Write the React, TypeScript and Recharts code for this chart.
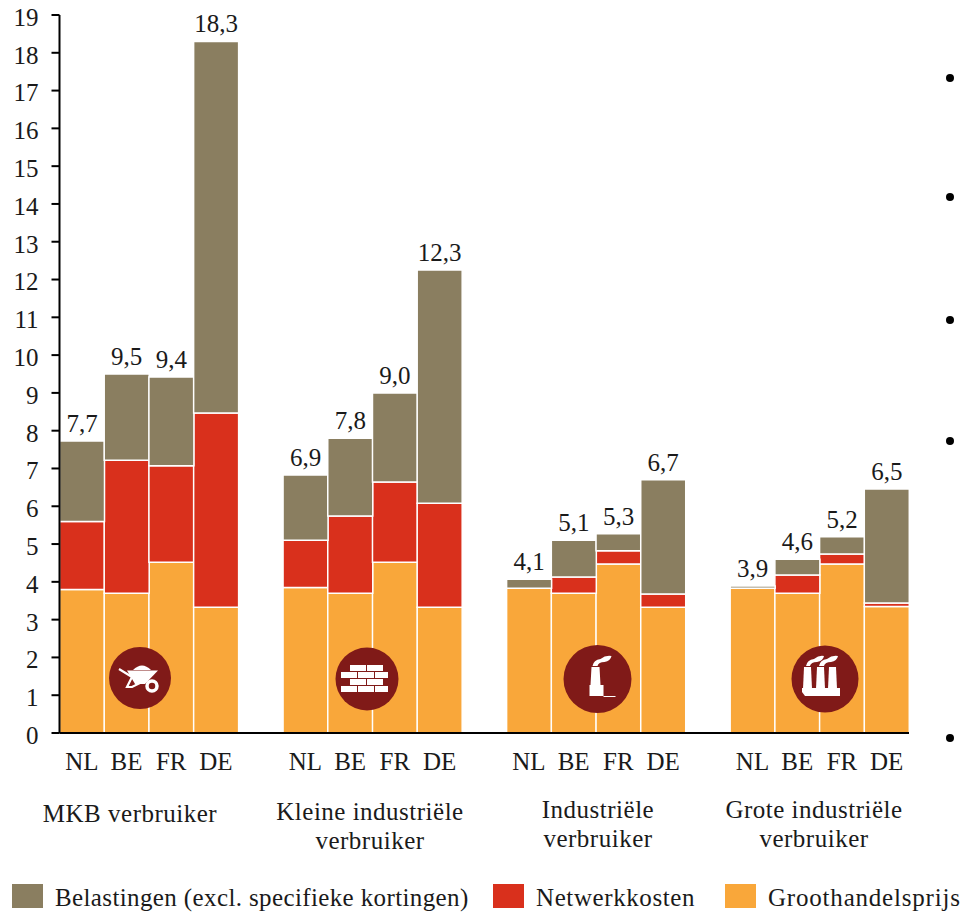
import { BarChart, Bar, XAxis, YAxis, LabelList, Legend } from 'recharts';

const FONT = '"Liberation Serif", serif';
const INK = '#1a1a1a';

// lege categorieen zijn de witruimte tussen de groepen
const countries = ['NL', 'BE', 'FR', 'DE', '', 'NL', 'BE', 'FR', 'DE', '', 'NL', 'BE', 'FR', 'DE', '', 'NL', 'BE', 'FR', 'DE'];
const wholesale = [3.8, 3.7, 4.52, 3.33, null, 3.85, 3.7, 4.52, 3.33, null, 3.83, 3.7, 4.47, 3.33, null, 3.83, 3.7, 4.47, 3.35];
const network = [1.8, 3.52, 2.55, 5.14, null, 1.25, 2.04, 2.12, 2.75, null, 0, 0.43, 0.35, 0.35, null, 0, 0.48, 0.27, 0.09];
const taxes = [2.13, 2.28, 2.35, 9.83, null, 1.73, 2.06, 2.36, 6.17, null, 0.24, 0.97, 0.45, 3.02, null, 0.06, 0.42, 0.45, 3.02];
const totals = ['7,7', '9,5', '9,4', '18,3', '', '6,9', '7,8', '9,0', '12,3', '', '4,1', '5,1', '5,3', '6,7', '', '3,9', '4,6', '5,2', '6,5'];
const yTicks = [0, 1, 2, 3, 4, 5, 6, 7, 8, 9, 10, 11, 12, 13, 14, 15, 16, 17, 18, 19];

const data = countries.map((country, i) => ({
  country,
  wholesale: wholesale[i],
  network: network[i],
  taxes: taxes[i],
  total: totals[i],
}));

const TAXES_COLOR = '#8a7e60';
const NETWORK_COLOR = '#d9301c';
const WHOLESALE_COLOR = '#f9a73a';
const ICON_COLOR = '#801a18';

const GroupLabel = ({ x, y, lines }: { x: number; y: number; lines: string[] }) => (
  <div style={{ position: 'absolute', left: x - 150, top: y, width: 300, textAlign: 'center', fontFamily: FONT, fontSize: 25, letterSpacing: 0.5, lineHeight: '29px', color: INK }}>
    {lines.map((l) => (
      <div key={l}>{l}</div>
    ))}
  </div>
);

const legendItems = [
  { name: 'Belastingen (excl. specifieke kortingen)', color: TAXES_COLOR, x: 12, spacing: 0.38 },
  { name: 'Netwerkkosten', color: NETWORK_COLOR, x: 493, spacing: 0.6 },
  { name: 'Groothandelsprijs', color: WHOLESALE_COLOR, x: 725, spacing: 0.8 },
];

const renderLegend = () => (
  <div>
    {legendItems.map((item) => (
      <div key={item.name} style={{ position: 'absolute', left: item.x, top: 884, height: 24, whiteSpace: 'nowrap' }}>
        <span style={{ position: 'absolute', left: 0, top: 0, width: 31, height: 24, background: item.color }} />
        <span style={{ position: 'absolute', left: 43, top: 0, fontFamily: FONT, fontSize: 25, letterSpacing: item.spacing, lineHeight: '28px', color: INK }}>{item.name}</span>
      </div>
    ))}
  </div>
);

const Wheelbarrow = () => (
  <g transform="translate(140 678)" fill="#fff" stroke="none">
    <circle r="31" fill={ICON_COLOR} />
    <path d="M-13 -7.5 L18 -7.5 L5 6 L-5 6 Z" />
    <path d="M-7 -8 Q2 -17 11 -8 Z" />
    <path d="M-21 -9 L-8 -1 L-13 9 L-8 9 L4 3" fill="none" stroke="#fff" strokeWidth="2.2" />
    <circle cx="12" cy="8" r="5" fill="none" stroke="#fff" strokeWidth="3.5" />
  </g>
);

const Bricks = () => (
  <g transform="translate(367 679)" fill="#fff">
    <circle r="31.5" fill={ICON_COLOR} />
    <rect x="-17" y="-14" width="16" height="6" />
    <rect x="0" y="-14" width="16" height="6" />
    <rect x="-26" y="-7" width="16" height="6" />
    <rect x="-9" y="-7" width="16" height="6" />
    <rect x="8" y="-7" width="13" height="6" />
    <rect x="-17" y="0" width="16" height="6" />
    <rect x="0" y="0" width="16" height="6" />
    <rect x="-26" y="7" width="16" height="6" />
    <rect x="-9" y="7" width="16" height="6" />
    <rect x="8" y="7" width="13" height="6" />
  </g>
);

const Factory = () => (
  <g transform="translate(597.5 679)" fill="#fff">
    <circle r="34" fill={ICON_COLOR} />
    <path d="M-6 -12 L2 -12 L3 6 L6 6 L6 17 L-8 17 L-8 6 L-7 6 Z" />
    <path d="M-5 -13 Q-4 -19 3 -20 Q8 -24 14 -23 Q13 -18 7 -17 Q1 -17 0 -13 Z" />
    <path d="M6 17 L18 17 L18 18 L6 18 Z" />
  </g>
);

const Factories = () => (
  <g transform="translate(825 679)" fill="#fff">
    <circle r="33.5" fill={ICON_COLOR} />
    <path d="M-23 9 L15 9 L15 17 L-20 17 L-23 13 Z" />
    <path d="M-21 -12 L-14 -12 L-13 10 L-22 10 Z" />
    <path d="M-8 -12 L-1 -12 L0 10 L-9 10 Z" />
    <path d="M4 -12 L11 -12 L12 10 L3 10 Z" />
    <path d="M-19 -13 Q-18 -19 -11 -20 Q-6 -24 -1 -23 Q-2 -18 -8 -17 Q-14 -17 -15 -13 Z" />
    <path d="M-6 -13 Q-5 -19 2 -20 Q7 -24 13 -23 Q12 -18 6 -17 Q0 -17 -1 -13 Z" />
  </g>
);

export default function App() {
  return (
    <div style={{ position: 'absolute', left: 0, top: 0, width: 962, height: 912, background: '#fff', overflow: 'hidden' }}>
      <BarChart
        width={962}
        height={912}
        data={data}
        barCategoryGap={0}
        margin={{ top: 15, right: 53, bottom: 139, left: 0 }}
      >
        <XAxis
          dataKey="country"
          interval={0}
          height={40}
          tickLine={false}
          axisLine={{ stroke: '#000', strokeWidth: 2 }}
          tick={{ fill: INK, fontFamily: FONT, fontSize: 25 }}
          tickMargin={13}
        />
        <YAxis
          width={59.5}
          domain={[0, 19]}
          ticks={yTicks}
          interval={0}
          tickSize={8}
          tickMargin={13}
          axisLine={{ stroke: '#000', strokeWidth: 2 }}
          tickLine={{ stroke: '#000', strokeWidth: 2 }}
          tick={{ fill: INK, fontFamily: FONT, fontSize: 25, dy: 2 }}
        />
        <Legend content={renderLegend} wrapperStyle={{ left: 0, top: 0, bottom: 'auto', width: 962, height: 0 }} />
        <Bar dataKey="wholesale" name="Groothandelsprijs" stackId="a" fill={WHOLESALE_COLOR} stroke="#fff" strokeWidth={1.5} isAnimationActive={false} />
        <Bar dataKey="network" name="Netwerkkosten" stackId="a" fill={NETWORK_COLOR} stroke="#fff" strokeWidth={1.5} isAnimationActive={false} />
        <Bar dataKey="taxes" name="Belastingen (excl. specifieke kortingen)" stackId="a" fill={TAXES_COLOR} stroke="#fff" strokeWidth={1.5} isAnimationActive={false}>
          <LabelList dataKey="total" position="top" offset={9} fill={INK} fontFamily={FONT} fontSize={25} />
        </Bar>
      </BarChart>

      <GroupLabel x={130} y={799} lines={['MKB verbruiker']} />
      <GroupLabel x={370} y={797} lines={['Kleine industriële', 'verbruiker']} />
      <GroupLabel x={598} y={795} lines={['Industriële', 'verbruiker']} />
      <GroupLabel x={814} y={795} lines={['Grote industriële', 'verbruiker']} />

      <svg width={962} height={912} style={{ position: 'absolute', left: 0, top: 0, pointerEvents: 'none' }}>
        <Wheelbarrow />
        <Bricks />
        <Factory />
        <Factories />
        {[78, 197, 320, 441, 738].map((y) => (
          <circle key={y} cx={950} cy={y} r={4} fill="#000" />
        ))}
      </svg>
    </div>
  );
}
